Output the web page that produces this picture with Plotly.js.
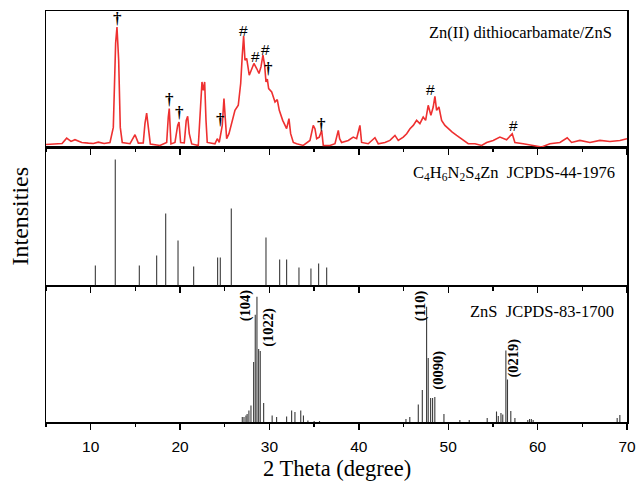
<!DOCTYPE html>
<html>
<head>
<meta charset="utf-8">
<script src="https://cdn.plot.ly/plotly-3.0.1.min.js"></script>
<style>html,body{margin:0;padding:0;background:#fff;}#chart{width:638px;height:488px;}</style>
</head>
<body>
<div id="chart"></div>
<script>
// Measured XRD pattern (top panel)
const sampleTheta = [5.0, 6.0, 6.8, 7.31, 7.8, 8.24, 9.0, 9.74, 10.3, 10.85, 11.5, 12.16, 12.53, 12.79, 12.94, 13.13, 13.31, 13.53, 14.4, 14.96, 15.33, 15.88, 16.07, 16.26, 16.45, 16.67, 17.75, 18.5, 18.68, 18.79, 18.98, 19.43, 19.73, 19.88, 20.06, 20.47, 20.69, 20.85, 21.03, 21.3, 22.04, 22.3, 22.45, 22.6, 22.75, 22.9, 23.04, 23.9, 24.16, 24.38, 24.54, 24.72, 24.91, 25.06, 25.21, 25.47, 25.77, 26.14, 26.51, 26.78, 26.96, 27.11, 27.26, 27.45, 27.74, 28.0, 28.26, 28.57, 28.83, 29.05, 29.27, 29.46, 29.61, 29.76, 29.91, 30.25, 30.62, 30.87, 31.1, 31.48, 31.92, 32.18, 32.37, 32.67, 33.04, 33.78, 34.53, 34.9, 35.09, 35.28, 35.57, 35.84, 36.02, 36.77, 37.33, 37.7, 37.85, 38.07, 38.82, 39.37, 39.75, 40.12, 40.31, 41.05, 41.8, 42.17, 42.92, 43.48, 44.04, 44.41, 44.97, 45.35, 45.72, 46.09, 46.46, 46.83, 47.2, 47.47, 47.76, 48.06, 48.32, 48.51, 48.7, 48.96, 49.26, 49.63, 50.0, 50.45, 50.94, 51.5, 52.24, 52.99, 53.74, 54.3, 55.03, 55.78, 56.53, 57.16, 57.46, 58.39, 59.51, 60.45, 61.38, 62.5, 63.31, 63.8, 64.73, 65.85, 66.97, 68.09, 69.21, 70.0];
const sampleInt = [3, 3.5, 4, 9.3, 6, 7.7, 5, 4.3, 4, 5.3, 4, 5, 20, 104, 120, 87, 20, 5, 3.7, 12.7, 4.3, 4.5, 23.7, 34.3, 17, 3.5, 2, 5, 30.3, 38.7, 3.5, 5, 22, 25.3, 5, 4.5, 27, 31, 13.7, 3.5, 2, 37, 65.3, 57, 65.3, 27, 5, 3.7, 8.7, 5, 13.7, 22, 48.7, 27, 8.7, 13.7, 25.3, 37, 42, 63.7, 92, 111, 87, 88.7, 72, 77, 83.7, 78.7, 73.7, 80.3, 92, 82, 65.3, 68, 58.7, 55.3, 45.3, 47.7, 37, 27, 18.7, 28.7, 13.7, 5, 3.7, 2, 7, 22, 18.7, 8.7, 10.3, 17, 2, 2, 3.7, 17, 8.7, 5, 7, 10.3, 8.7, 22, 5, 3.7, 9.7, 3.7, 5, 7, 12, 7, 10.3, 13.7, 18.7, 22, 27, 23.7, 30.3, 27, 42, 32, 40.3, 51, 37, 40.3, 27, 22, 18.7, 15.3, 12, 8.7, 3.7, 3.7, 2, 5, 7, 10.3, 7.7, 13.7, 5, 3.7, 2, 0.5, 3.7, 5, 9.7, 5, 7, 5, 7, 6, 7, 8.7];

// Reference C4H6N2S4Zn JCPDS-44-1976 (middle panel)
const refAX = [10.52, 12.75, 15.44, 17.38, 18.39, 19.77, 21.52, 24.2, 24.5, 25.73, 29.61, 31.14, 31.92, 33.3, 34.64, 35.5, 36.4];
const refAH = [20, 126, 20, 30, 72, 45, 19, 28, 28, 77, 48, 26, 26, 18, 17, 22, 18];

// Reference ZnS JCPDS-83-1700 (bottom panel)
const refBX = [26.96, 27.15, 27.37, 27.5, 27.7, 27.93, 28.23, 28.41, 28.6, 28.79, 28.97, 29.35, 30.3, 30.8, 31.92, 32.48, 32.85, 33.5, 33.8, 34.3, 35.0, 35.6, 45.27, 45.7, 46.65, 47.1, 47.58, 47.76, 48.03, 48.25, 48.5, 49.52, 51.3, 52.35, 54.36, 55.4, 55.6, 55.9, 56.1, 56.45, 56.63, 57.0, 57.46, 58.9, 59.1, 59.3, 59.5, 68.9, 69.2];
const refBH = [5, 5, 6.5, 8, 11.5, 16.5, 60, 107, 125, 73, 71, 19, 6.5, 5, 5.5, 11.5, 10, 11.5, 6.5, 1.5, 1, 1, 3, 5, 17.5, 32, 115, 64, 24, 24, 25, 8, 2, 2, 4, 10.5, 6, 9, 7.5, 71.5, 42.5, 11, 4, 2, 3, 3, 2, 4, 7];

// Peak markers in the measured pattern
const daggerX = [12.97, 18.79, 19.91, 24.5, 29.91, 35.84];
const daggerY = [128.7, 47.7, 35.3, 27.7, 78.7, 23];
const hashX = [27.07, 28.49, 29.53, 48.03, 57.27];
const hashY = [116.3, 91, 97.7, 57.7, 22];

// Miller index labels in ZnS reference
const hklText = ['(104)', '(1022)', '(110)', '(0090)', '(0219)'];
const hklX = [27.26, 29.8, 46.83, 48.88, 57.27];
const hklY = [116.5, 94.8, 116.5, 51.5, 63.5];

const tickVals = [10, 20, 30, 40, 50, 60, 70];

function sticks(xs, hs) {
  const x = [], y = [];
  xs.forEach((v, i) => { x.push(v, v, null); y.push(0, hs[i], null); });
  return {x, y};
}
const sA = sticks(refAX, refAH);
const sB = sticks(refBX, refBH);

const serif = 'Liberation Serif, Times New Roman, serif';
const sans = 'Liberation Sans, Arial, sans-serif';

const traces = [
  {x: sampleTheta, y: sampleInt, xaxis: 'x3', yaxis: 'y3', type: 'scatter', mode: 'lines',
   line: {color: '#ee3030', width: 1.6}, hoverinfo: 'skip'},
  {x: sA.x, y: sA.y, xaxis: 'x2', yaxis: 'y2', type: 'scatter', mode: 'lines',
   line: {color: '#3a3a3a', width: 1.1}, hoverinfo: 'skip'},
  {x: sB.x, y: sB.y, xaxis: 'x', yaxis: 'y', type: 'scatter', mode: 'lines',
   line: {color: '#3a3a3a', width: 1.1}, hoverinfo: 'skip'}
];

function xax(anchor, showLabels) {
  return {
    anchor: anchor, range: [5, 70], showline: true, mirror: true, linecolor: '#000', linewidth: 1.5,
    showgrid: false, zeroline: false, ticks: 'outside', ticklen: 6, tickwidth: 1.3, tickcolor: '#000',
    tickvals: tickVals, showticklabels: showLabels, ticklabelstandoff: 4,
    tickfont: {family: sans, size: 15.5, color: '#000'},
    minor: {dtick: 5, tick0: 5, ticks: 'outside', ticklen: 3.5, tickwidth: 1.3, tickcolor: '#000', showgrid: false}
  };
}
function yax(domain, range, anchor) {
  return {domain: domain, range: range, anchor: anchor, showline: true, mirror: true, linecolor: '#000',
    linewidth: 1.5, showgrid: false, zeroline: false, ticks: '', showticklabels: false};
}

const annotations = [];
daggerX.forEach((x, i) => annotations.push({x: x, y: daggerY[i], xref: 'x3', yref: 'y3', text: '<b>†</b>', showarrow: false,
  font: {family: serif, size: 17, color: '#000'}}));
hashX.forEach((x, i) => annotations.push({x: x, y: hashY[i], xref: 'x3', yref: 'y3', text: '#', showarrow: false,
  font: {family: sans, size: 15.5, color: '#000'}}));
hklText.forEach((t, i) => annotations.push({x: hklX[i], y: hklY[i], xref: 'x', yref: 'y', text: '<b>' + t + '</b>',
  textangle: -90, showarrow: false, font: {family: serif, size: 14.5, color: '#000'}}));
annotations.push({x: 68.55, y: 115, xref: 'x3', yref: 'y3', xanchor: 'right', text: 'Zn(II) dithiocarbamate/ZnS',
  showarrow: false, font: {family: serif, size: 16.5, color: '#000'}});
annotations.push({x: 68.9, y: 112, xref: 'x2', yref: 'y2', xanchor: 'right',
  text: 'C<sub>4</sub>H<sub>6</sub>N<sub>2</sub>S<sub>4</sub>Zn\u00a0\u00a0JCPDS-44-1976',
  showarrow: false, font: {family: serif, size: 16.5, color: '#000'}});
annotations.push({x: 68.8, y: 110.8, xref: 'x', yref: 'y', xanchor: 'right', text: 'ZnS\u00a0\u00a0JCPDS-83-1700',
  showarrow: false, font: {family: serif, size: 16.5, color: '#000'}});
annotations.push({x: -0.045, y: 0.502, xref: 'paper', yref: 'paper', xanchor: 'center', yanchor: 'middle',
  text: 'Intensities', textangle: -90, showarrow: false, font: {family: serif, size: 24, color: '#000'}});
annotations.push({x: 0.5, y: -0.112, xref: 'paper', yref: 'paper', xanchor: 'center', yanchor: 'middle',
  text: '2 Theta (degree)', showarrow: false, font: {family: serif, size: 22.5, color: '#000'}});

const layout = {
  width: 638, height: 488,
  margin: {l: 46, r: 11, t: 11, b: 66},
  paper_bgcolor: '#fff', plot_bgcolor: '#fff',
  showlegend: false,
  xaxis: xax('y', true),
  xaxis2: xax('y2', false),
  xaxis3: xax('y3', false),
  yaxis: yax([0, 0.329], [0, 135], 'x'),
  yaxis2: yax([0.332, 0.668], [0, 138], 'x2'),
  yaxis3: yax([0.668, 1], [0, 136], 'x3'),
  annotations: annotations
};

Plotly.newPlot('chart', traces, layout, {staticPlot: true, displayModeBar: false});
</script>
</body>
</html>
